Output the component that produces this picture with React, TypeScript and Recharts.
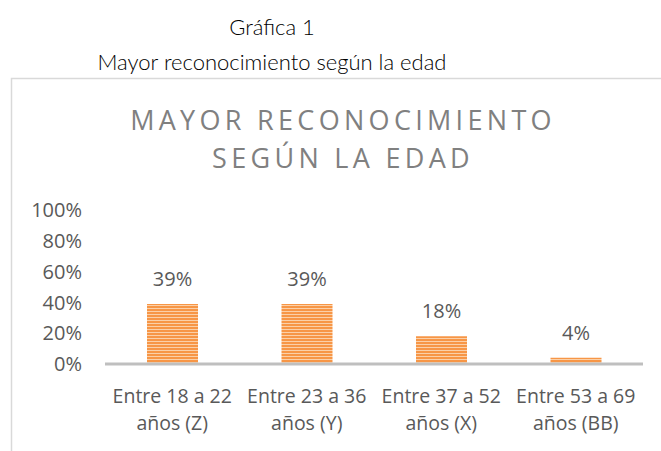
import React from "react";
import { BarChart, Bar, XAxis, YAxis, LabelList } from "recharts";

const categories = [
  "Entre 18 a 22 años (Z)",
  "Entre 23 a 36 años (Y)",
  "Entre 37 a 52 años (X)",
  "Entre 53 a 69 años (BB)",
];
const values = [0.39, 0.39, 0.18, 0.04];
const yTicks = [0, 0.2, 0.4, 0.6, 0.8, 1];

const FONT = "'Open Sans', 'Noto Sans', sans-serif";
const TITLE_FONT = "Lato, 'Open Sans', sans-serif";

const data = categories.map((name, i) => ({ name, value: values[i] }));

const pct = (v: number) => `${Math.round(v * 100)}%`;

function CategoryTick(props: any) {
  const { x, y, payload } = props;
  const text: string = payload.value;
  const cut = text.indexOf(" años");
  const first = cut >= 0 ? text.slice(0, cut) : text;
  const second = cut >= 0 ? text.slice(cut + 1) : "";
  return (
    <text x={x} y={y} textAnchor="middle" fill="#595959" fontSize={19.5} fontFamily={FONT}>
      <tspan x={x} dy={39}>{first}</tspan>
      <tspan x={x} dy={27}>{second}</tspan>
    </text>
  );
}

export default function App() {
  return (
    <div
      style={{
        position: "absolute",
        left: 0,
        top: 0,
        width: 661,
        height: 451,
        overflow: "hidden",
        background: "#fff",
        fontFamily: FONT,
      }}
    >
      <svg width={661} height={451} style={{ position: "absolute", left: 0, top: 0 }}>
        <defs>
          <pattern id="stripes" patternUnits="userSpaceOnUse" width={4} height={3}>
            <rect x={0} y={0} width={4} height={3} fill="#fbd0a8" />
            <rect x={0} y={0} width={4} height={2} fill="#f79646" />
          </pattern>
        </defs>
        <text x={272} y={35} textAnchor="middle" fontSize={22} fontWeight={300} fill="#000" fontFamily={TITLE_FONT}>
          Gráfica 1
        </text>
        <text x={272} y={70} textAnchor="middle" fontSize={22} fontWeight={300} fill="#000" fontFamily={TITLE_FONT}>
          Mayor reconocimiento según la edad
        </text>
        <rect x={11.5} y={78.5} width={700} height={400} fill="none" stroke="#d9d9d9" strokeWidth={1.5} />
        <text x={343} y={130} textAnchor="middle" fontSize={27} fill="#808080" letterSpacing={4.3} fontFamily={FONT}>
          MAYOR RECONOCIMIENTO
        </text>
        <text x={343} y={168} textAnchor="middle" fontSize={27} fill="#808080" letterSpacing={4.3} fontFamily={FONT}>
          SEGÚN LA EDAD
        </text>
      </svg>
      <div style={{ position: "absolute", left: 0, top: 0 }}>
        <BarChart
          width={661}
          height={451}
          data={data}
          margin={{ top: 210, right: 18, bottom: 17, left: 0 }}
          style={{ fontFamily: FONT }}
        >
          <XAxis
            dataKey="name"
            tickLine={false}
            tickSize={0}
            tickMargin={0}
            height={70}
            axisLine={{ stroke: "#bfbfbf", strokeWidth: 3 }}
            tick={<CategoryTick />}
            interval={0}
          />
          <YAxis
            width={105}
            domain={[0, 1]}
            ticks={yTicks}
            tickFormatter={pct}
            axisLine={false}
            tickLine={false}
            tickSize={0}
            tickMargin={23}
            tick={{ fill: "#595959", fontSize: 20, fontFamily: FONT }}
            interval={0}
          />
          <Bar dataKey="value" fill="url(#stripes)" barSize={51} isAnimationActive={false}>
            <LabelList
              dataKey="value"
              position="top"
              offset={18}
              formatter={(v: any) => pct(Number(v))}
              fill="#595959"
              fontSize={20}
              fontFamily={FONT}
            />
          </Bar>
        </BarChart>
      </div>
    </div>
  );
}
